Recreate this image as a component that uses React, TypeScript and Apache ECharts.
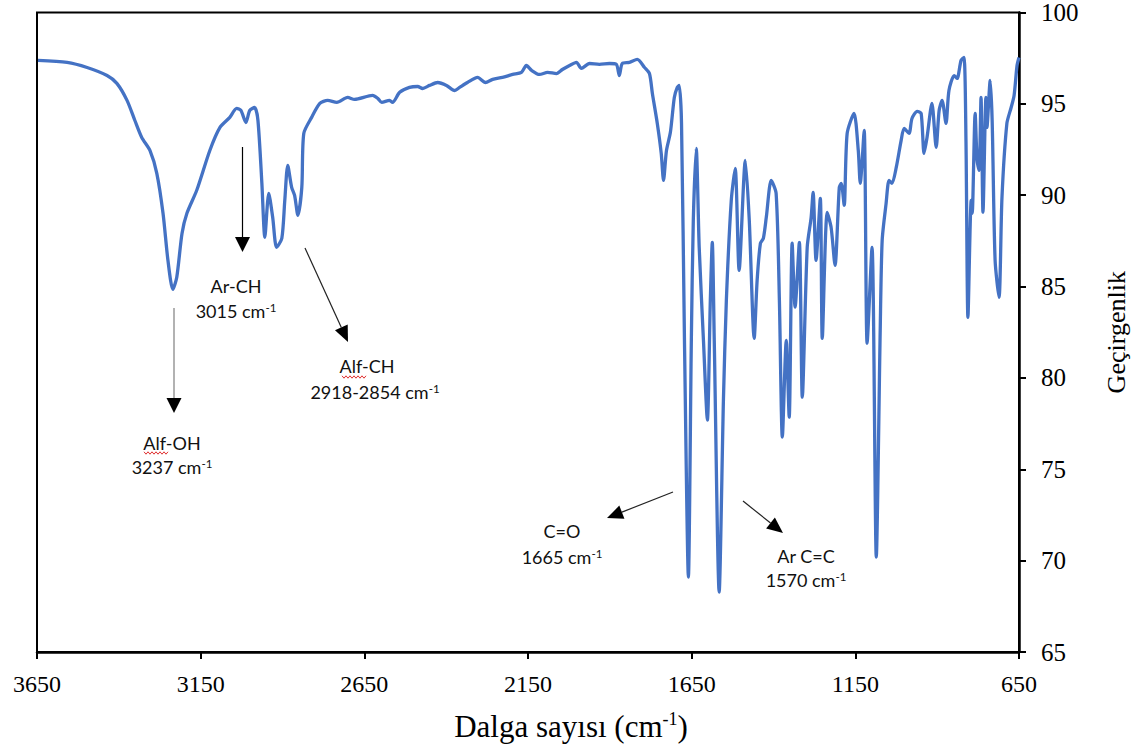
import React, { useEffect, useRef } from "react";
import * as echarts from "echarts";

// Wavenumber (cm-1), left (3650) to right (650)
const wavenumber = [
  3647, 3558, 3497, 3436, 3406, 3375, 3351, 3330, 3305, 3284,
  3265, 3250, 3235, 3223, 3207, 3192, 3162, 3122, 3091, 3061,
  3040, 3027, 3012, 3000, 2985, 2975, 2963, 2954, 2942, 2930,
  2918, 2902, 2893, 2884, 2872, 2863, 2853, 2841, 2835, 2811,
  2786, 2762, 2734, 2701, 2680, 2625, 2609, 2597, 2573, 2564,
  2542, 2512, 2487, 2472, 2451, 2426, 2399, 2374, 2359, 2335,
  2304, 2280, 2258, 2228, 2197, 2170, 2155, 2139, 2115, 2090,
  2063, 2045, 2023, 2002, 1987, 1962, 1932, 1901, 1880, 1871,
  1862, 1840, 1816, 1794, 1779, 1770, 1755, 1743, 1736, 1727,
  1715, 1703, 1694, 1688, 1681, 1672, 1660, 1651, 1645, 1636,
  1627, 1614, 1602, 1593, 1587, 1581, 1566, 1553, 1544, 1529,
  1517, 1505, 1486, 1474, 1459, 1450, 1440, 1431, 1422, 1407,
  1392, 1382, 1373, 1361, 1352, 1343, 1334, 1321, 1312, 1297,
  1285, 1279, 1270, 1257, 1251, 1236, 1224, 1212, 1199, 1193,
  1184, 1175, 1154, 1141, 1135, 1123, 1114, 1099, 1086, 1074,
  1068, 1056, 1047, 1038, 1025, 1010, 1001, 986, 977, 961,
  949, 940, 931, 916, 903, 894, 885, 873, 864, 848,
  839, 827, 818, 812, 806, 796, 793, 784, 778, 772,
  766, 760, 751, 748, 738, 732, 723, 711, 702, 687,
  674, 665, 656, 650,
];

// Transmittance (%) at each wavenumber above
const transmittance = [
  97.38, 97.27, 96.99, 96.55, 96.12, 95.19, 94.09, 93.16, 92.45, 91.2,
  89.01, 86.44, 84.85, 85.51, 87.91, 89.01, 90.27, 92.45, 93.71, 94.26,
  94.75, 94.64, 93.98, 94.64, 94.8, 94.09, 90.65, 87.7, 90.1, 88.79,
  87.15, 87.64, 89.72, 91.63, 90.43, 89.99, 88.9, 90.43, 93.38, 94.26,
  95.02, 95.19, 95.08, 95.35, 95.24, 95.46, 95.3, 95.08, 95.19, 95.08,
  95.63, 95.9, 95.95, 95.84, 96.01, 96.17, 96.01, 95.73, 95.9, 96.17,
  96.45, 96.17, 96.34, 96.45, 96.61, 96.72, 97.1, 96.83, 96.61, 96.72,
  96.66, 96.88, 97.1, 97.27, 96.94, 97.21, 97.16, 97.21, 97.16, 96.55,
  97.21, 97.27, 97.43, 96.99, 96.66, 95.57, 93.93, 92.29, 90.81, 92.45,
  93.44, 95.35, 95.9, 96.01, 93.93, 82.06, 69.1, 82.06, 88.63, 92.56,
  87.15, 82.06, 77.69, 84.25, 87.42, 82.06, 68.28, 78.78, 84.25, 89.72,
  91.47, 85.89, 91.91, 88.63, 82.17, 85.34, 87.37, 87.64, 88.79, 90.81,
  90.1, 84.25, 76.76, 82.06, 77.85, 87.37, 83.87, 87.42, 78.95, 87.15,
  88.79, 90.16, 86.44, 89.83, 82.17, 89.06, 88.24, 86.16, 90.43, 90.65,
  89.45, 93.38, 94.48, 92.45, 90.65, 93.55, 81.9, 87.15, 70.2, 82.61,
  87.53, 89.55, 90.81, 90.65, 91.52, 93.0, 93.66, 93.38, 94.2, 94.59,
  94.48, 92.29, 93.16, 95.02, 92.62, 94.64, 95.19, 93.93, 95.73, 96.55,
  96.39, 97.38, 97.54, 93.0, 83.32, 89.72, 89.01, 94.48, 91.91, 91.36,
  95.35, 89.06, 95.35, 93.71, 96.28, 94.09, 86.44, 84.41, 89.88, 93.93,
  94.8, 95.46, 97.1, 97.54,
];

const xTickValues = [3650, 3150, 2650, 2150, 1650, 1150, 650];
const yTickValues = [65, 70, 75, 80, 85, 90, 95, 100];

const bandNames = ["Alf-OH", "Ar-CH", "Alf-CH", "C=O", "Ar C=C"];
const bandValues = ["3237", "3015", "2918-2854", "1665", "1570"];

const SERIF = "'Liberation Serif', 'Times New Roman', serif";
const SANS = "Lato, 'Open Sans', sans-serif";

function arrow(x1: number, y1: number, x2: number, y2: number, lineColor: string, head = 15, hw = 7.5) {
  const dx = x2 - x1;
  const dy = y2 - y1;
  const L = Math.hypot(dx, dy);
  const ux = dx / L;
  const uy = dy / L;
  const bx = x2 - ux * head;
  const by = y2 - uy * head;
  return [
    {
      type: "line",
      shape: { x1, y1, x2: bx, y2: by },
      style: { stroke: lineColor, lineWidth: 1.2 },
      silent: true,
    },
    {
      type: "polygon",
      shape: {
        points: [
          [x2, y2],
          [bx - uy * hw, by + ux * hw],
          [bx + uy * hw, by - ux * hw],
        ],
      },
      style: { fill: "#000" },
      silent: true,
    },
  ];
}

function label(text: string, x: number, y: number) {
  return {
    type: "text",
    x,
    y,
    silent: true,
    style: {
      text,
      fill: "#111",
      fontFamily: SANS,
      fontSize: 18,
      align: "center",
      verticalAlign: "middle",
      rich: {
        sup: { fontSize: 11.5, fontFamily: SANS, fill: "#111", verticalAlign: "top", padding: [0, 0, 8, 0] },
      },
    },
  };
}

function squiggle(x0: number, x1: number, y: number) {
  const pts: number[][] = [];
  let up = true;
  for (let x = x0; x <= x1; x += 2) {
    pts.push([x, up ? y - 1.2 : y + 1.2]);
    up = !up;
  }
  return {
    type: "polyline",
    shape: { points: pts },
    style: { stroke: "#e03030", lineWidth: 1, fill: null },
    silent: true,
  };
}

export default function App() {
  const ref = useRef<HTMLDivElement>(null);

  useEffect(() => {
    if (!ref.current) return;
    const chart = echarts.init(ref.current, null, { renderer: "svg" });
    const data = wavenumber.map((w, i) => [w, transmittance[i]]);

    const labelPos = [
      [[172, 443], [172, 467]],
      [[236, 286], [236, 311]],
      [[367, 366], [375, 392]],
      [[562, 531], [562, 557]],
      [[806, 556], [806, 580]],
    ];

    const graphics: any[] = [];
    graphics.push(...arrow(174, 308, 174, 413, "#7f7f7f"));
    graphics.push(...arrow(242.5, 147, 242.5, 252, "#000"));
    graphics.push(...arrow(305, 248, 348, 342, "#222", 16, 7));
    graphics.push(...arrow(673, 492, 607, 518, "#222", 16, 7));
    graphics.push(...arrow(743, 501, 783, 533, "#222", 16, 7));
    bandNames.forEach((n, i) => {
      graphics.push(label(n, labelPos[i][0][0], labelPos[i][0][1]));
      graphics.push(label(bandValues[i] + " cm{sup|-1}", labelPos[i][1][0], labelPos[i][1][1]));
    });
    graphics.push(squiggle(144, 168, 453));
    graphics.push(squiggle(342, 366, 377));

    chart.setOption({
      animation: false,
      backgroundColor: "#fff",
      grid: {
        left: 37,
        right: 117,
        top: 12,
        bottom: 101,
        show: true,
        borderColor: "#000",
        borderWidth: 2,
        backgroundColor: "transparent",
      },
      xAxis: {
        type: "value",
        min: xTickValues[xTickValues.length - 1],
        max: xTickValues[0],
        interval: 500,
        inverse: true,
        name: "Dalga sayısı (cm{sup|-1})",
        nameLocation: "middle",
        nameGap: 58,
        nameTextStyle: {
          fontFamily: SERIF,
          fontSize: 31,
          color: "#000",
          padding: [0, 0, 0, 86],
          rich: {
            sup: { fontFamily: SERIF, fontSize: 18, color: "#000", verticalAlign: "top", padding: [0, 0, 14, 0] },
          },
        },
        axisLine: { show: true, lineStyle: { color: "#000", width: 2.5 } },
        axisTick: { show: true, inside: false, length: 7, lineStyle: { color: "#000", width: 2 } },
        axisLabel: {
          fontFamily: SERIF,
          fontSize: 24,
          color: "#000",
          margin: 20,
          formatter: (v: number) => String(v),
        },
        splitLine: { show: false },
      },
      yAxis: {
        type: "value",
        position: "right",
        min: yTickValues[0],
        max: yTickValues[yTickValues.length - 1],
        interval: 5,
        name: "Geçirgenlik",
        nameLocation: "middle",
        nameRotate: 90,
        nameGap: 84,
        nameTextStyle: { fontFamily: SERIF, fontSize: 26, color: "#000" },
        axisLine: { show: true, lineStyle: { color: "#000", width: 2.5 } },
        axisTick: { show: true, inside: false, length: 7, lineStyle: { color: "#000", width: 2 } },
        axisLabel: {
          fontFamily: SERIF,
          fontSize: 25,
          color: "#000",
          margin: 22,
          formatter: (v: number) => String(v),
        },
        splitLine: { show: false },
      },
      series: [
        {
          type: "line",
          data,
          showSymbol: false,
          symbol: "none",
          smooth: 0.25,
          lineStyle: { color: "#4472C4", width: 3.3 },
          z: 3,
        },
      ],
      graphic: graphics,
    });

    return () => chart.dispose();
  }, []);

  return (
    <div
      ref={ref}
      style={{ position: "fixed", left: 0, top: 0, width: 1137, height: 753, background: "#fff" }}
    />
  );
}
